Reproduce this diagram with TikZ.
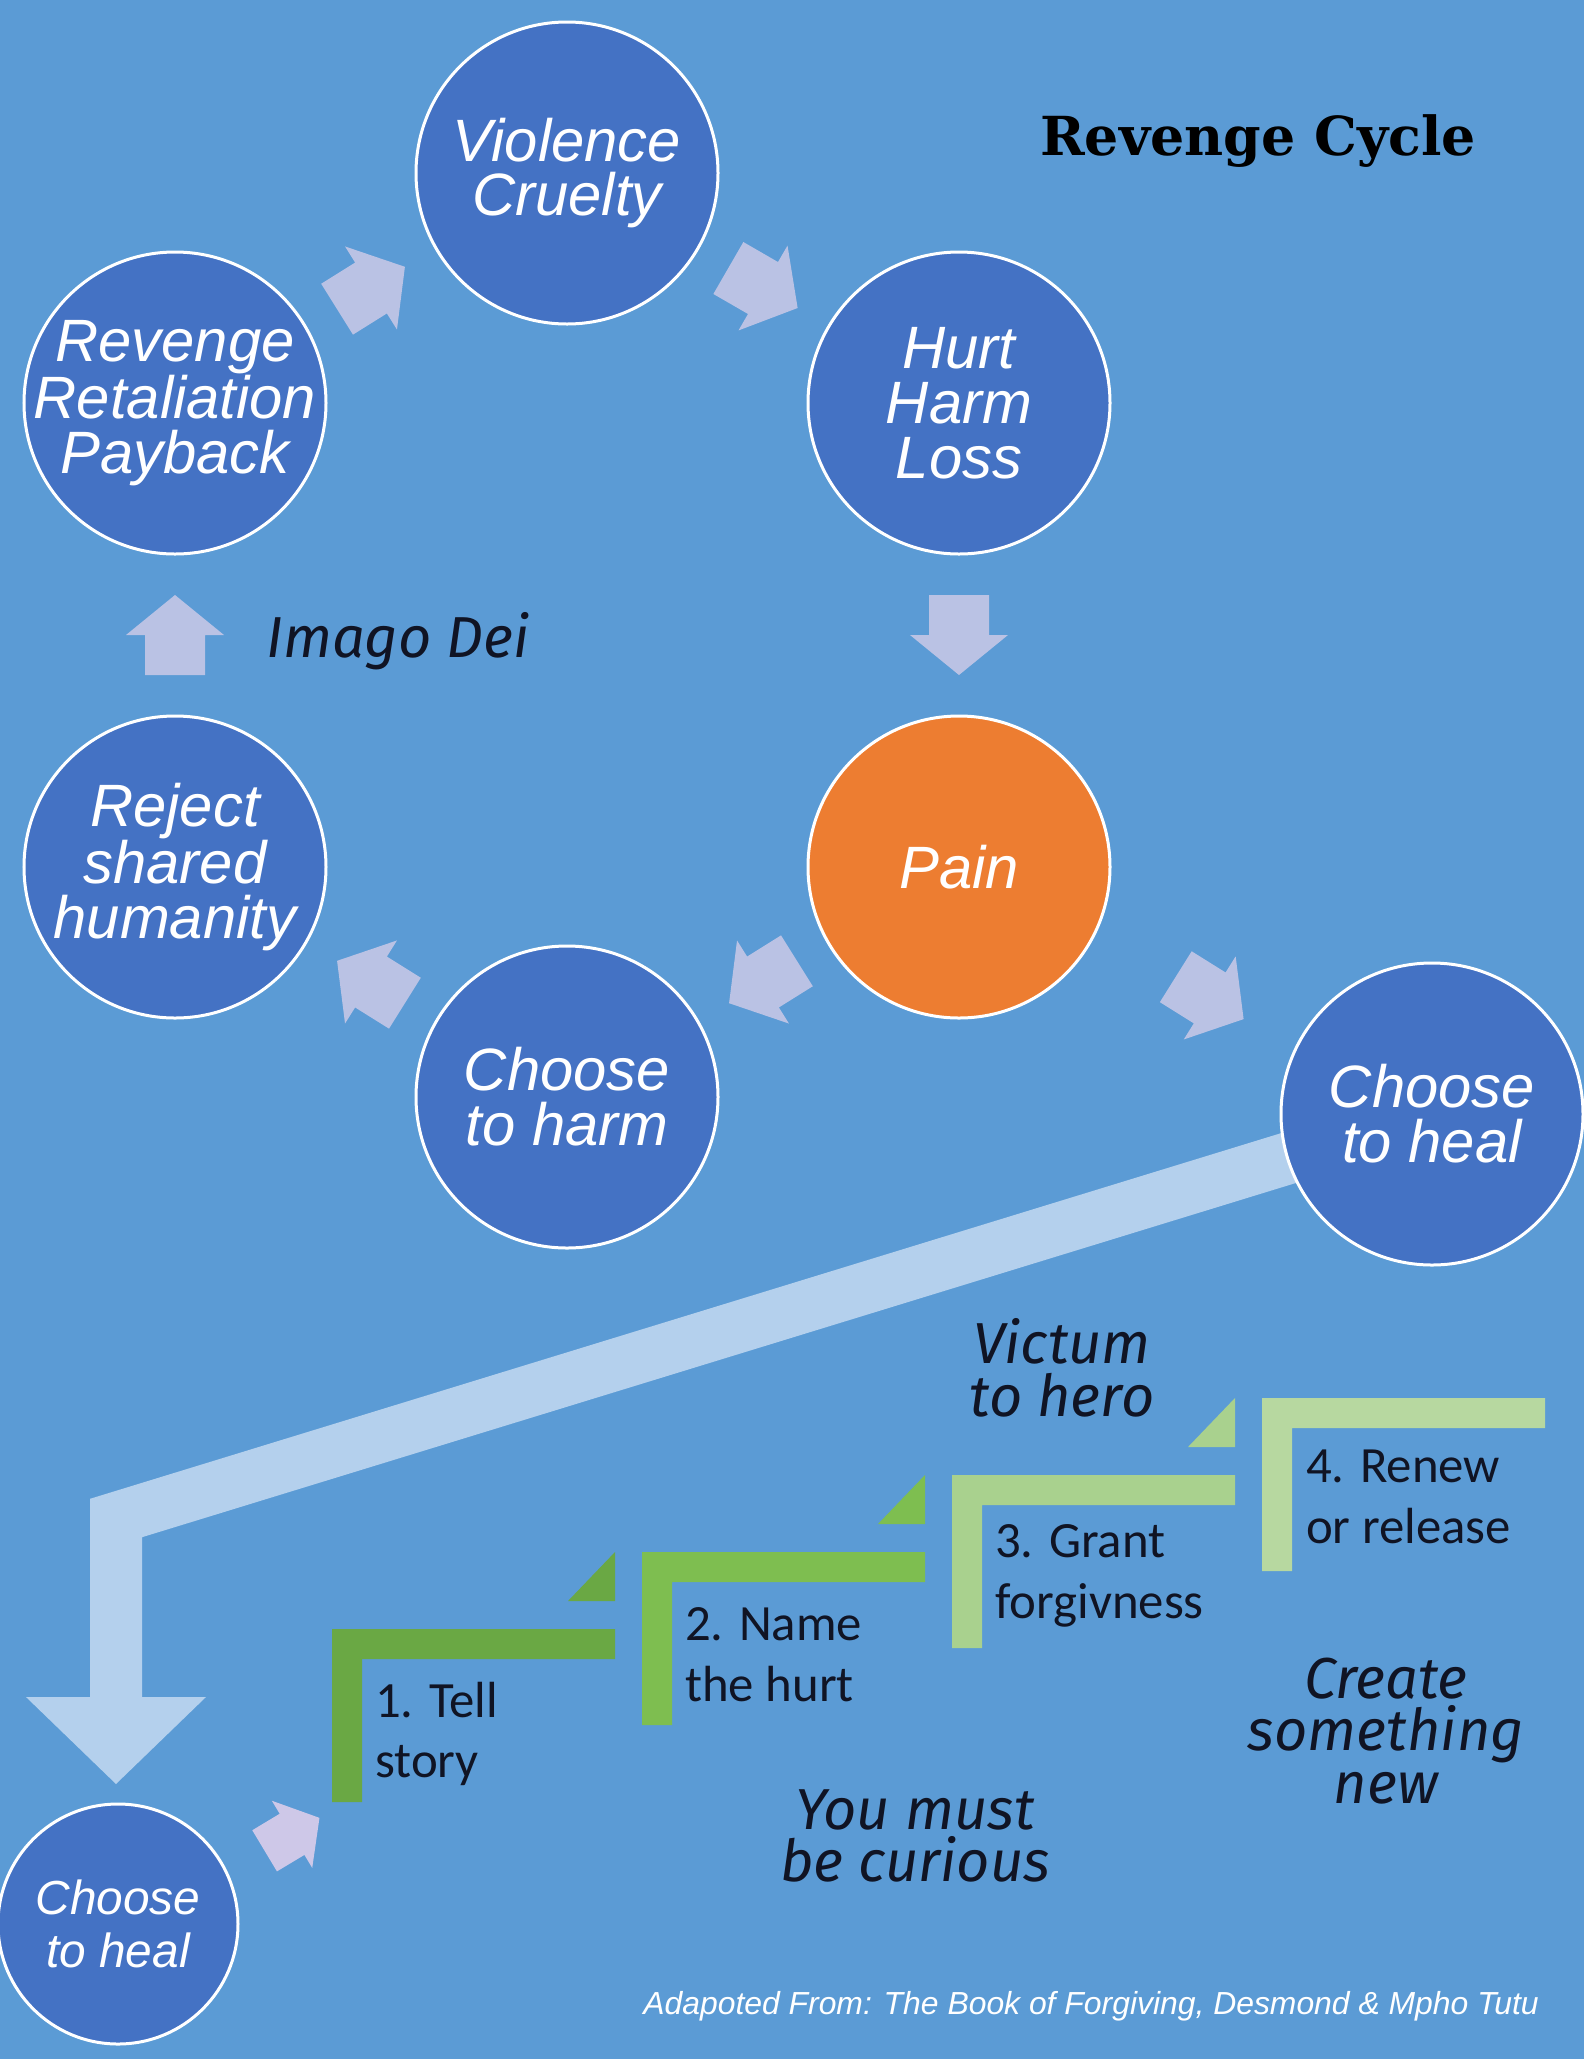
\documentclass[tikz,border=0pt]{standalone}
\usepackage{fontspec}
\usetikzlibrary{calc}
\newfontfamily\circfont{Liberation Sans}
\newfontfamily\stepfont{Carlito}
\newfontfamily\titlefont{DejaVu Serif}
\newfontfamily\handfont{Fira Sans}
\definecolor{bg}{RGB}{91,155,213}
\definecolor{circ}{RGB}{68,114,196}
\definecolor{painc}{RGB}{237,125,49}
\definecolor{arr}{RGB}{186,194,228}
\definecolor{arrb}{RGB}{206,200,232}
\definecolor{bandc}{RGB}{180,208,237}
\definecolor{gA}{RGB}{106,168,68}
\definecolor{gB}{RGB}{126,190,80}
\definecolor{gC}{RGB}{169,209,142}
\definecolor{gD}{RGB}{183,216,160}
\definecolor{ink}{RGB}{16,20,36}
\tikzset{
  cyc/.style={circle, draw=white, line width=3bp, fill=circ, minimum size=302bp, inner sep=-40bp,
    align=center, text=white, font=\circfont\itshape\fontsize{60}{55}\selectfont},
  steplabel/.style={anchor=west, align=left, inner sep=0pt, text=ink,
    font=\stepfont\fontsize{51}{61}\selectfont},
  hand/.style={align=center, inner sep=0pt, text=ink,
    font=\handfont\itshape\fontsize{58}{53}\selectfont},
  bandline/.style={draw=bandc, line width=52bp, line join=miter},
}
\newcommand{\blockarr}[3]{\fill[shift={#1}, rotate=#2, #3] (-40,-30) -- (0,-30) -- (0,-49) -- (40,0) -- (0,49) -- (0,30) -- (-40,30) -- cycle;}
\begin{document}
\begin{tikzpicture}[x=1bp,y=-1bp]
\useasboundingbox (0,0) rectangle (1584,2059);
\fill[bg] (0,0) rectangle (1584,2059);

% coordinates for the healing path
\coordinate (bend) at (116,1518);
\coordinate (bandend) at (116,1698);
\coordinate (headtip) at (116,1784);
\coordinate (s1) at (347,1806);

% nodes of the cycle
\node[cyc] (viol) at (567,173) {Violence\\Cruelty};
\node[cyc] (hurt) at (959,403) {Hurt\\Harm\\Loss};
\node[cyc] (rev) at (175,403) {Revenge\\Retaliation\\Payback};
\node[cyc, fill=painc] (pain) at (959,867) {Pain};
\node[cyc] (rej) at (175,867) {Reject\\shared\\humanity};
\node[cyc] (harm) at (567,1097) {Choose\\to harm};

% big bent arrow (behind the heal circle)
\draw[bandline] (1432,1114) -- (bend) -- (bandend);
\fill[bandc] (26,1697) -- (206,1697) -- (headtip) -- cycle;

\node[cyc] (heal) at (1432,1114) {Choose\\to heal};
\node[cyc, minimum size=240bp, font=\circfont\itshape\fontsize{48}{53}\selectfont] (heal2) at (118,1924) {Choose\\to heal};

% block arrows of the cycle
\blockarr{($(rev)!0.5!(viol)$)}{32}{arr}
\blockarr{($(viol)!0.5!(hurt)$)}{-30}{arr}
\blockarr{($(hurt)!0.5!(pain)$)}{-90}{arr}
\blockarr{($(pain)!0.5!(harm)$)}{-148}{arr}
\blockarr{($(harm)!0.5!(rej)$)}{148}{arr}
\blockarr{($(rej)!0.5!(rev)$)}{90}{arr}
\blockarr{($(pain)!0.53!(heal)$)}{-32}{arr}
\blockarr{($(heal2)!0.76!(s1)$)}{31}{arrb, scale=0.8}

% green steps
\foreach \i/\col in {0/gA,1/gB,2/gC,3/gD}{
  \pgfmathsetmacro\sx{332+310*\i}
  \pgfmathsetmacro\sy{1629-77*\i}
  \fill[\col] (\sx,\sy) -- ++(283,0) -- ++(0,30) -- ++(-253,0) -- ++(0,143) -- ++(-30,0) -- cycle;
}
\foreach \i/\col in {0/gA,1/gB,2/gC}{
  \pgfmathsetmacro\sx{332+310*\i}
  \pgfmathsetmacro\sy{1629-77*\i}
  \fill[\col] (\sx+236,\sy-28) -- (\sx+283,\sy-28) -- (\sx+283,\sy-77) -- cycle;
}

% step labels
\node[steplabel] (l1) at (375,1734) {1. Tell\\story};
\node[steplabel] (l2) at (685,1655) {2. Name\\the hurt};
\node[steplabel] (l3) at (995,1576) {3. Grant\\forgivness};
\node[steplabel] (l4) at (1306,1497) {4. Renew\\or release};

% hand-lettered notes
\node[hand] (imago) at (398,641) {Imago Dei};
\node[hand] (victum) at (1062,1368) {Victum\\to hero};
\node[hand] (curious) at (915,1836) {You must\\be curious};
\node[hand] (create) at (1386,1731) {Create\\something\\new};

% title and source
\node[anchor=base, inner sep=0pt, text=black, font=\titlefont\bfseries\fontsize{54}{60}\selectfont] (title) at (1258,155) {Revenge Cycle};
\node[anchor=east, inner sep=0pt, text=white, font=\circfont\itshape\fontsize{32}{36}\selectfont] (src) at (1539,2006) {Adapoted From: The Book of Forgiving, Desmond \& Mpho Tutu};
\end{tikzpicture}
\end{document}
